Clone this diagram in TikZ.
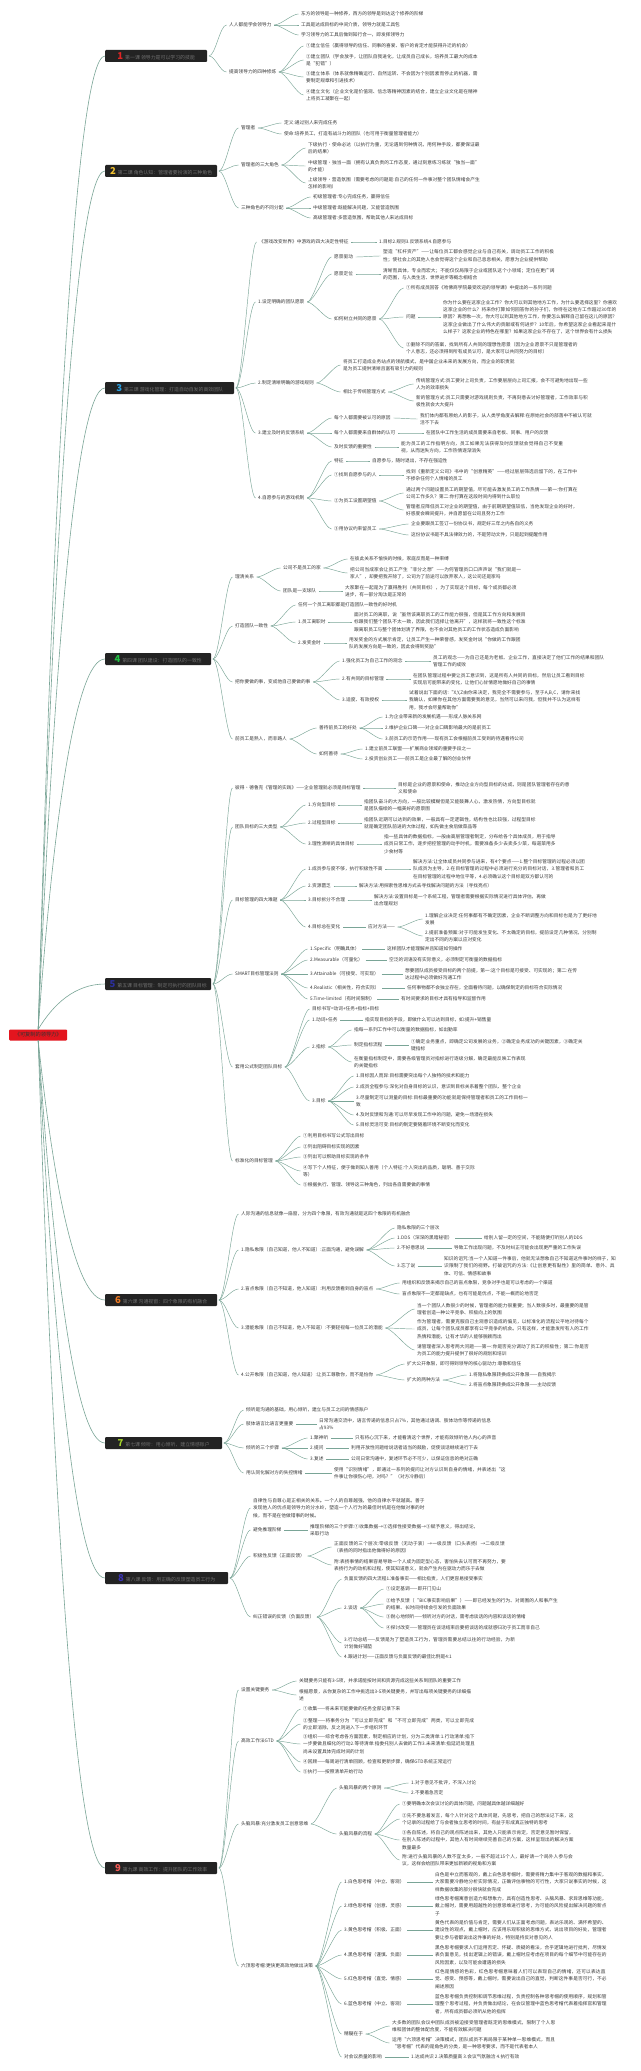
\documentclass[tikz,border=0pt]{standalone}
\usepackage{fontspec}
\setmainfont{Noto Sans CJK SC}
\XeTeXlinebreaklocale "zh"
\XeTeXlinebreakskip = 0pt plus 1pt
\usetikzlibrary{calc}

\definecolor{linkc}{HTML}{7AA597}
\definecolor{txt}{HTML}{3A3A3A}
\definecolor{hdrfill}{HTML}{232323}
\definecolor{hdrtxt}{HTML}{707070}
\definecolor{rootred}{HTML}{E3151E}
\definecolor{n1}{HTML}{E02424}
\definecolor{n2}{HTML}{F2C230}
\definecolor{n3}{HTML}{2A9FE0}
\definecolor{n4}{HTML}{22C244}
\definecolor{n5}{HTML}{2B2F9C}
\definecolor{n6}{HTML}{F07A22}
\definecolor{n7}{HTML}{A6D62A}
\definecolor{n8}{HTML}{3A32B4}
\definecolor{n9}{HTML}{F25A55}

\def\fs{\fontsize{4.7}{7.3}\selectfont}
\def\hfs{\fontsize{4.9}{6}\selectfont}
\def\hnum#1#2{{\color{#1}\fontsize{9.5}{9.5}\selectfont\bfseries #2}\hspace{2pt}}

\tikzset{
	leaf/.style={anchor=west, inner sep=1pt, text=txt, font=\fs},
	para/.style={leaf, text width=172pt, align=left},
	hdr/.style={anchor=west, fill=hdrfill, text=hdrtxt, font=\hfs, inner xsep=3pt, inner ysep=1pt, minimum height=12pt, rounded corners=1pt},
	rootbox/.style={anchor=west, fill=rootred, text=black!80, font=\fontsize{5.2}{6}\selectfont, minimum width=58pt, minimum height=11pt, inner sep=1pt, rounded corners=1pt},
	link/.style={draw=linkc, line width=0.45pt, shorten <=1.5pt, shorten >=1.5pt},
	rootlink/.style={draw=linkc, line width=0.6pt}
}

\begin{document}
\begin{tikzpicture}[x=1pt,y=1pt]
			%%%%% START %%%%%
			\fill[white] (0,0) rectangle (640,-2071);
			\useasboundingbox (0,0) rectangle (640,-2071);

			\node[rootbox] (root) at (9,-1035) {《可复制的领导力》};

			\node[hdr, minimum width=102pt] (h1) at (105,-56) {\hnum{n1}{1}第一课 领导力是可以学习的技能};
			\node[hdr, minimum width=112pt] (h2) at (105,-171) {\hnum{n2}{2}第二课 角色认知：管理者要扮演的三种角色};
			\node[hdr, minimum width=129pt] (h3) at (105,-388) {\hnum{n3}{3}第三课 游戏化管理：打造自动自发的高效团队};
			\node[hdr, minimum width=106pt] (h4) at (105,-659) {\hnum{n4}{4}第四课 团队建设：打造团队的一致性};
			\node[hdr, minimum width=106pt] (h5) at (105,-984) {\hnum{n5}{5}第五课 目标管理：制定可执行的团队目标};
			\node[hdr, minimum width=112pt] (h6) at (105,-1300) {\hnum{n6}{6}第六课 沟通视窗：四个象限的有机融合};
			\node[hdr, minimum width=117pt] (h7) at (105,-1443) {\hnum{n7}{7}第七课 倾听：用心倾听，建立情感账户};
			\node[hdr, minimum width=123pt] (h8) at (105,-1578) {\hnum{n8}{8}第八课 反馈：用正确的反馈塑造员工行为};
			\node[hdr, minimum width=112pt] (h9) at (105,-1868) {\hnum{n9}{9}第九课 高效工作：提升团队的工作效率};

			\foreach \hn/\d in {h1/535,h2/470,h3/350,h4/205,h5/25}
				\draw[rootlink] (root.north) .. controls +(15,\d) and +(-30,0) .. (\hn.west);
			\foreach \hn/\d in {h6/-140,h7/-220,h8/-295,h9/-455}
				\draw[rootlink] (root.south) .. controls +(15,\d) and +(-30,0) .. (\hn.west);

			% 1
			\node[leaf] (b1a) at (228,-25) {人人都能学会领导力};
			\node[leaf] (b1a1) at (300,-14) {东方的领导是一种修养，西方的领导是到达这个修养的阶梯};
			\node[leaf] (b1a2) at (300,-25) {工具是达成目标的中间介质，领导力就是工具包};
			\node[leaf] (b1a3) at (300,-35) {学习领导力的工具后做到知行合一，即发挥领导力};
			\node[leaf] (b1b) at (228,-72) {提高领导力的四种修炼};
			\node[leaf] (b1b1) at (305,-46) {①建立信任（赢得领导的信任、同事的喜爱、客户的肯定才能获得升迁的机会）};
			\node[para] (b1b2) at (305,-60) {②建立团队（学会放手，让团队自我进化，让成员自己成长，培养员工最大的成本是“犯错”）};
			\node[para] (b1b3) at (305,-77) {③建立体系（体系就像精确运行、自然运转、不会因为个别因素而停止的机器，需要制定规章和引进技术）};
			\node[para] (b1b4) at (305,-95) {④建立文化（企业文化是价值观、信念等精神因素的结合，建立企业文化是在精神上将员工凝聚在一起）};

			% 2
			\node[leaf] (b2a) at (240,-128) {管理者};
			\node[leaf] (b2a1) at (283,-123) {定义:通过别人来完成任务};
			\node[leaf] (b2a2) at (283,-134) {使命:培养员工，打造有战斗力的团队（也可用于衡量管理者能力）};
			\node[leaf] (b2b) at (240,-165) {管理者的三大角色};
			\node[para] (b2b1) at (307,-148) {下级执行·使命必达（以执行为重，无论遇到何种情况，用何种手段，都要保证最后的结果）};
			\node[para] (b2b2) at (307,-166) {中级管理·独当一面（拥有认真负责的工作态度，通过刻意练习练就“独当一面”的才能）};
			\node[para] (b2b3) at (307,-183) {上级领导·营造氛围（需要考虑的问题是:自己的任何一件事对整个团队情绪会产生怎样的影响）};
			\node[leaf] (b2c) at (240,-208) {三种角色的不同分配};
			\node[leaf] (b2c1) at (312,-197) {初级管理者:专心完成任务，赢得信任};
			\node[leaf] (b2c2) at (312,-208) {中级管理者:既能解决问题，又能营造氛围};
			\node[leaf] (b2c3) at (312,-218) {高级管理者:多营造氛围，帮助其他人来达成目标};

			% 3
			\node[leaf] (b3a) at (258,-242) {《游戏改变世界》中游戏的四大决定性特征};
			\node[leaf] (b3a1) at (378,-242) {1.目标2.规则3.反馈系统4.自愿参与};
			\node[leaf] (b3b) at (257,-302) {1.设定明确的团队愿景};
			\node[leaf] (b3b1) at (333,-257) {愿景驱动};
			\node[para] (b3b1t) at (382,-256) {塑造“杠杆资产”——让每位员工都会感觉企业与自己有关，调动员工工作的积极性；使社会上的其他人也会觉得这个企业和自己息息相关，愿意为企业提供帮助};
			\node[leaf] (b3b2) at (333,-274) {愿景定位};
			\node[para] (b3b2t) at (382,-274) {清晰而具体，专业而宏大；不能仅仅局限于企业或团队这个小领域；定位在更广阔的范围，与人类生活、世界进步等概念相结合};
			\node[leaf] (b3b3) at (333,-319) {如何树立共同的愿景};
			\node[leaf] (b3b31) at (405,-288) {①所有成员回答《哈佛商学院最受欢迎的领导课》中提出的一系列问题};
			\node[leaf] (b3b32) at (405,-317) {问题};
			\node[para, text width=174pt] (b3b32t) at (442,-317) {你为什么要在这家企业工作？你大可以到其他地方工作，为什么要选择这里？你喜欢这家企业的什么？将来你打算如何回答你的孙子们，你待在这地方工作超过30年的原因？再想象一次，你大可以到其他地方工作，你要怎么解释自己留在这儿的原因？这家企业做出了什么伟大的贡献或有何进步？10年后，你希望这家企业看起来是什么样子？这家企业的特色在哪里？如果这家企业不存在了，这个世界会有什么损失};
			\node[para] (b3b33) at (405,-348) {②删除不同的答案，找到所有人共同的理想性愿景（因为企业愿景不只是管理者的个人意志，还必须得到所有成员认可，是大家可以共同努力的目标）};
			\node[leaf] (b3c) at (257,-383) {2.制定清晰明确的游戏规则};
			\node[para] (b3c1) at (342,-365) {将员工打造成业务站点的领航模式，是中国企业未来的发展方向，而企业的职责就是为员工提供清晰且富有吸引力的规则};
			\node[leaf] (b3c2) at (342,-392) {相比于传统管理方式};
			\node[para] (b3c21) at (415,-384) {传统管理方式:员工要对上司负责，工作要层层向上司汇报，会不可避免地出现一些人为的效率损失};
			\node[para] (b3c22) at (415,-401) {新的管理方式:员工只需要对游戏规则负责，不再刻意去讨好管理者，工作效率与积极性就会大大提升};
			\node[leaf] (b3d) at (257,-433) {3.建立及时的反馈系统};
			\node[leaf] (b3d1) at (333,-418) {每个人都需要被认可的原因};
			\node[para] (b3d1t) at (419,-419) {我们体内都有原始人的影子，从人类学角度去解释:在原始社会的部落中不被认可就活不下去};
			\node[leaf] (b3d2) at (333,-433) {每个人都需要来自群体的认可};
			\node[leaf] (b3d2t) at (425,-433) {在团队中工作生活的成员需要来自老板、同事、用户的反馈};
			\node[leaf] (b3d3) at (333,-447) {及时反馈的重要性};
			\node[para, text width=164pt] (b3d3t) at (400,-447) {能为员工的工作指明方向，员工如果无法获得及时反馈就会觉得自己不受重视，从而迷失方向，工作热情逐渐消失};
			\node[leaf] (b3e) at (257,-498) {4.自愿参与的游戏机制};
			\node[leaf] (b3e1) at (333,-461) {特征};
			\node[leaf] (b3e1t) at (371,-461) {自愿参与，随时退出，不存在强迫性};
			\node[leaf] (b3e2) at (333,-475) {①找到自愿参与的人};
			\node[para] (b3e2t) at (405,-475) {找到《重新定义公司》书中的“创意精英”——经过层层筛选后留下的，在工作中不掺杂任何个人情绪的员工};
			\node[leaf] (b3e3) at (333,-501) {②为员工设置期望值};
			\node[para] (b3e31) at (405,-493) {通过两个问题设置员工的期望值，尽可能去激发员工的工作热情——第一:你打算在公司工作多久？第二:你打算在这段时间内得到什么职位};
			\node[para] (b3e32) at (405,-510) {管理者应降低员工对企业的期望值，由于前期期望值较低，当他发现企业的好时，好感度会瞬间提升，并自愿留在公司且努力工作};
			\node[leaf] (b3e4) at (333,-529) {③用协议约束留员工};
			\node[leaf] (b3e41) at (410,-524) {企业要跟员工签订一份协议书，规定好三年之内各自的义务};
			\node[leaf] (b3e42) at (410,-535) {这份协议书是不具法律效力的，不是劳动文件，只是起到提醒作用};

			% 4
			\node[leaf] (b4a) at (234,-577) {理清关系};
			\node[leaf] (b4a1) at (282,-568) {公司不是员工的家};
			\node[leaf] (b4a11) at (349,-559) {在彼此关系不愉快的时候，家庭反而是一种束缚};
			\node[para] (b4a12) at (349,-573) {把公司当成家会让员工产生“非分之想”——为何管理员口口声声说“我们就是一家人”，却要把我开除了，公司为了前途可以放弃家人，这公司还是家吗};
			\node[leaf] (b4a2) at (282,-591) {团队是一支球队};
			\node[para] (b4a2t) at (344,-591) {大家聚在一起是为了赢得胜利（共同目标），为了实现这个目标，每个成员都必须进步，有一部分淘汰是正常的};
			\node[leaf] (b4b) at (234,-626) {打造团队一致性};
			\node[leaf] (b4b1) at (297,-605) {任何一个员工离职都是打造团队一致性的好时机};
			\node[leaf] (b4b2) at (297,-622) {1.员工离职时};
			\node[para] (b4b2t) at (353,-622) {面对员工的离职，说“虽然该离职员工的工作能力很强，但是其工作方向和发展目标跟我们整个团队不太一致，因此我们选择让他离开”，这样就将一致性这个标准跟离职员工与整个团体划清了界限，也不会对其他员工的工作状态造成负面影响};
			\node[leaf] (b4b3) at (297,-643) {2.发奖金时};
			\node[para] (b4b3t) at (348,-643) {用发奖金的方式展示肯定，让员工产生一种荣誉感，发奖金时说“你做的工作跟团队的发展方向是一致的，因此会得到奖励”};
			\node[leaf] (b4c) at (234,-682) {把你要做的事，变成他自己要做的事};
			\node[leaf] (b4c1) at (341,-661) {1.强化员工为自己工作的观念};
			\node[para] (b4c1t) at (432,-661) {员工的观念——为自己还是为老板、企业工作，直接决定了他们工作的结果和团队管理工作的成败};
			\node[leaf] (b4c2) at (341,-679) {2.有共同的目标管理};
			\node[para] (b4c2t) at (412,-679) {在团队管理过程中要让员工意识到，这是所有人共同的目标，然后让员工看到目标实现后可能带来的变化，让他们心甘情愿地做好自己的事情};
			\node[leaf] (b4c3) at (341,-700) {3.适度、有效授权};
			\node[para] (b4c3t) at (408,-700) {试着说出下面的话:“X,Y,Z由你来决定，我完全不需要参与，至于A,B,C，请你来找我确认，如果你在其他方面需要我的意见，当然可以来问我，但我并不认为这样有用，我才会尽量帮助你”};
			\node[leaf] (b4d) at (234,-739) {前员工是熟人，而非路人};
			\node[leaf] (b4d1) at (318,-728) {善待前员工的好处};
			\node[leaf] (b4d11) at (384,-717) {1.为企业带来新的发展机遇——形成人脉关系网};
			\node[leaf] (b4d12) at (384,-728) {2.维护企业口碑——对企业口碑影响最大的是前员工};
			\node[leaf] (b4d13) at (384,-739) {3.前员工的示范作用——现有员工会根据前员工受到的待遇看待公司};
			\node[leaf] (b4d2) at (318,-754) {如何善待};
			\node[leaf] (b4d21) at (364,-749) {1.建立前员工联盟——扩展商业领域的重要手段之一};
			\node[leaf] (b4d22) at (364,-759) {2.投资创业员工——前员工是企业最了解的创业伙伴};

			% 5
			\node[leaf] (b5a) at (234,-788) {彼得·德鲁克《管理的实践》——企业管理就必须是目标管理};
			\node[para] (b5at) at (397,-788) {目标是企业的愿景和使命，推动企业方向型目标的达成，则是团队管理者存在的意义和使命};
			\node[leaf] (b5b) at (234,-827) {团队目标的三大类型};
			\node[leaf] (b5b1) at (307,-805) {1.方向型目标};
			\node[para] (b5b1t) at (363,-805) {指团队奋斗的大方向，一般比较模糊但是又能鼓舞人心，激发热情，方向型目标就是团队描绘的一幅美好的愿景图};
			\node[leaf] (b5b2) at (307,-823) {2.过程型目标};
			\node[para] (b5b2t) at (363,-823) {指团队近期可以达到的效果，一般具有一定逻辑性，结构性也比较强，过程型目标就是确定团队前进的大体过程，如先做主食后做菜品等};
			\node[leaf] (b5b3) at (307,-844) {3.理性清晰的具体目标};
			\node[para] (b5b3t) at (383,-844) {指一些具体的数据指标，一般由高层管理者制定，分布给各个具体成员，用于指导成员日常工作，逐步把控管理的动手时机，需要准备多少去卖多少菜，每道菜用多少食材等};
			\node[leaf] (b5c) at (234,-900) {目标管理的四大难题};
			\node[leaf] (b5c1) at (307,-869) {1.成员参与度不够，执行积极性不高};
			\node[para] (b5c1t) at (412,-869) {解决方法:让全体成员共同参与进来，有4个要点——1.整个目标管理的过程必须以团队成员为主导，2.在目标管理的过程中必须进行充分的目标对话，3.管理者和员工在目标管理的过程中地位平等，4.必须确认这个目标是双方都认可的};
			\node[leaf] (b5c2) at (307,-886) {2.资源匮乏};
			\node[leaf] (b5c2t) at (358,-886) {解决方法:用探索性思维方式去寻找解决问题的方法（寻找亮点）};
			\node[leaf] (b5c3) at (307,-900) {3.目标拆分不合理};
			\node[para] (b5c3t) at (373,-900) {解决方法:设置目标是一个系统工程，管理者需要根据实际情况进行具体评估，再做出合理规划};
			\node[leaf] (b5c4) at (307,-927) {4.目标总在变化};
			\node[leaf] (b5c4a) at (367,-927) {应对方法——};
			\node[para] (b5c41) at (424,-919) {1.理解企业决定:任何事都有不确定因素，企业不断调整方向和目标也是为了更好地发展};
			\node[para] (b5c42) at (424,-936) {2.提前准备预案:对于可能发生变化、不太确定的目标，提前设定几种情况，分别制定出不同的方案以应对变化};
			\node[leaf] (b5d) at (234,-974) {SMART目标管理法则};
			\node[leaf] (b5d1) at (309,-949) {1.Specific（明确具体）};
			\node[leaf] (b5d1t) at (386,-949) {这样团队才能理解并且知道如何操作};
			\node[leaf] (b5d2) at (309,-960) {2.Measurable（可量化）};
			\node[leaf] (b5d2t) at (388,-960) {空泛的词语没有实际意义，必须制定可衡量的数据指标};
			\node[leaf] (b5d3) at (309,-974) {3.Attainable（可接受、可实现）};
			\node[para] (b5d3t) at (404,-974) {想要团队成员接受目标的两个前提，第一:这个目标是可接受、可实现的；第二:在传达过程中必须做好沟通工作};
			\node[leaf] (b5d4) at (309,-988) {4.Realistic（相关性，符合实际）};
			\node[leaf] (b5d4t) at (406,-988) {任何事物都不会独立存在，全面看待问题，以确保制定的目标符合实际情况};
			\node[leaf] (b5d5) at (309,-999) {5.Time-limited（有时间限制）};
			\node[leaf] (b5d5t) at (400,-999) {有时间要求的目标才具有指导和监督作用};
			\node[leaf] (b5e) at (234,-1067) {套用公式制定团队目标};
			\node[leaf] (b5e1) at (311,-1009) {目标书写=动词+任务+指标+目标};
			\node[leaf] (b5e2) at (311,-1020) {1.动词+任务};
			\node[leaf] (b5e2t) at (364,-1020) {指实现目标的手段，即做什么可以达到目标，如:提升+销售量};
			\node[leaf] (b5e3) at (311,-1047) {2.指标};
			\node[leaf] (b5e31) at (353,-1030) {指每一系列工作中可以衡量的数据指标，如出勤率};
			\node[leaf] (b5e32) at (353,-1045) {制定指标流程};
			\node[para] (b5e32t) at (410,-1045) {①确定业务重点，即确定公司发展的业务，②确定业务成功的关键因素，③确定关键指标};
			\node[para] (b5e33) at (353,-1062) {在衡量指标制定中，需要各级管理员对指标进行逐级分解，确定最能反映工作表现的关键指标};
			\node[leaf] (b5e4) at (311,-1101) {3.目标};
			\node[leaf] (b5e41) at (355,-1076) {1.目标因人而异:目标需要突出每个人独特的技术和能力};
			\node[leaf] (b5e42) at (355,-1087) {2.成员全程参与:深化对自身目标的认识，意识到目标关系着整个团队、整个企业};
			\node[para] (b5e43) at (355,-1101) {3.尽量制定可以测量的目标:目标最重要的功能就是保持管理者和员工的工作目标一致};
			\node[leaf] (b5e44) at (355,-1115) {4.及时反馈和沟通:可以尽早发现工作中的问题，避免一场潜在损失};
			\node[leaf] (b5e45) at (355,-1125) {5.目标灵活可变:目标的制定要随着环境不断变化而变化};
			\node[leaf] (b5f) at (234,-1161) {标准化的目标管理};
			\node[leaf] (b5f1) at (302,-1136) {①利用目标书写公式写出目标};
			\node[leaf] (b5f2) at (302,-1147) {②列出阻碍目标实现的因素};
			\node[leaf] (b5f3) at (302,-1157) {③列出可以帮助目标实现的条件};
			\node[para] (b5f4) at (302,-1171) {④写下个人特征，便于做到知人善用（个人特征:个人突出的品质，聪明、善于交际等）};
			\node[leaf] (b5f5) at (302,-1185) {⑤根据执行、管理、领导这三种角色，列出各自需要做的事情};

			% 6
			\node[para] (b6a) at (240,-1214) {人际沟通的信息就像一扇窗，分为四个象限，有效沟通就是这四个象限的有机融合};
			\node[leaf] (b6b) at (240,-1250) {1.隐私象限（自己知道，他人不知道）:正面沟通，避免误解};
			\node[leaf] (b6b1) at (396,-1228) {隐私象限的三个层次};
			\node[leaf] (b6b2) at (396,-1238) {1.DDS（深深的黑暗秘密）};
			\node[leaf] (b6b2t) at (483,-1238) {给别人留一定的空间，不能随便打听别人的DDS};
			\node[leaf] (b6b3) at (396,-1248) {2.不好意思说};
			\node[leaf] (b6b3t) at (453,-1248) {导致工作出现问题，不及时纠正可能会出现更严重的工作失误};
			\node[leaf] (b6b4) at (396,-1266) {3.忘了说};
			\node[para] (b6b4t) at (443,-1266) {知识的诅咒:当一个人知道一件事后，他就无法想象自己不知道这件事时的样子，知识限制了我们的视野。打破诅咒的方法:《让创意更有黏性》里的简单、意外、具体、可信、情感和故事};
			\node[leaf] (b6c) at (240,-1289) {2.盲点象限（自己不知道，他人知道）:利用反馈看到自身的盲点};
			\node[leaf] (b6c1) at (401,-1283) {用组织和反馈来揭示自己的盲点象限，竞争对手也是可以考虑的一个渠道};
			\node[leaf] (b6c2) at (401,-1294) {盲点象限不一定都是缺点，也有可能是优点，不能一概而论地否定};
			\node[leaf] (b6d) at (240,-1328) {3.潜能象限（自己不知道，他人不知道）:不要轻视每一位员工的潜能};
			\node[para] (b6d1) at (416,-1309) {当一个团队人数很少的时候，管理者的能力很重要；当人数很多时，最重要的是管理者创造一种公平竞争、积极向上的氛围};
			\node[para] (b6d2) at (416,-1329) {作为管理者，需要克服自己主观意识造成的偏见，以标准化的流程公平地对待每个成员，让每个团队成员都享有公平竞争的机会。只有这样，才能激发所有人的工作热情和潜能，让有才华的人能够脱颖而出};
			\node[para] (b6d3) at (416,-1350) {请管理者深入思考两大问题——第一:你是否充分调动了员工的积极性；第二:你是否为员工的能力提升提供了很好的规划和培训};
			\node[leaf] (b6e) at (240,-1375) {4.公开象限（自己知道，他人知道）:让员工尊敬你，而不是怕你};
			\node[leaf] (b6e1) at (406,-1364) {扩大公开象限，即可得到领导的核心驱动力:尊敬和信任};
			\node[leaf] (b6e2) at (406,-1380) {扩大的两种方法};
			\node[leaf] (b6e21) at (468,-1375) {1.将隐私象限转换成公开象限——自我揭示};
			\node[leaf] (b6e22) at (468,-1385) {2.将盲点象限转换成公开象限——主动反馈};

			% 7
			\node[leaf] (b7a) at (245,-1410) {倾听是沟通的基础，用心倾听，建立与员工之间的情感账户};
			\node[leaf] (b7b) at (245,-1424) {肢体语言比语言更重要};
			\node[para] (b7bt) at (318,-1424) {日常沟通交流中，语言传递的信息只占7\%，其他通过语调、肢体动作等传递的信息占93\%};
			\node[leaf] (b7c) at (245,-1448) {倾听的三个步骤};
			\node[leaf] (b7c1) at (309,-1438) {1.聚神听};
			\node[leaf] (b7c1t) at (354,-1438) {只有将心沉下来，才能看清这个世界，才能有效倾听他人内心的声音};
			\node[leaf] (b7c2) at (309,-1448) {2.提问};
			\node[leaf] (b7c2t) at (350,-1448) {利用开放性问题给说话者适当的鼓励，促使谈话继续进行下去};
			\node[leaf] (b7c3) at (309,-1459) {3.复述};
			\node[leaf] (b7c3t) at (350,-1459) {公司日常沟通中，复述环节必不可少，以保证信息的绝对正确};
			\node[leaf] (b7d) at (245,-1473) {用认同化解对方的失控情绪};
			\node[para] (b7dt) at (333,-1473) {使用“识别情绪”，即通过一系列的提问让对方认识到自身的情绪，并表述出“这件事让你很伤心吧，对吗？”（对方冷静后）};

			% 8
			\node[para] (b8a) at (252,-1508) {自律性与自尊心是正相关的关系。一个人的自尊越强，他的自律水平就越高。善于发现他人的优点是领导力的分水岭，塑造一个人行为的最佳时机是在他做对事的时候，而不是在他做错事的时候。};
			\node[leaf] (b8b) at (252,-1530) {避免推理阶梯};
			\node[para, text width=169pt] (b8bt) at (309,-1530) {推理阶梯的三个步骤:①收集数据→②选择性接受数据→③赋予意义，得出结论，采取行动};
			\node[leaf] (b8c) at (252,-1556) {积极性反馈（正面反馈）};
			\node[para] (b8c1) at (333,-1547) {正面反馈的三个层次:零级反馈（无动于衷）→一级反馈（口头表扬）→二级反馈（表扬的同时指出他做得好的原因）};
			\node[para] (b8c2) at (333,-1565) {附:表扬事情的结果容易导致一个人成为固定型心态，害怕失去认可而不再努力，要表扬行为的动机和过程，使其知道意义，就会产生内在驱动力而乐于去做};
			\node[leaf] (b8d) at (252,-1617) {纠正错误的反馈（负面反馈）};
			\node[leaf] (b8d1) at (343,-1579) {负面反馈的四大流程1.准备事实——相比指责，人们更容易接受事实};
			\node[leaf] (b8d2) at (343,-1608) {2.谈话};
			\node[leaf] (b8d21) at (385,-1589) {①设定基调——即开门见山};
			\node[para] (b8d22) at (385,-1604) {②给予反馈（“BIC事实影响后果”）——即已经发生的行为、对周围的人和事产生的结果、长时间持续会引发的负面效果};
			\node[leaf] (b8d23) at (385,-1617) {③耐心地倾听——倾听对方的对话，需考虑谈话的内容和谈话的情绪};
			\node[leaf] (b8d24) at (385,-1628) {④探讨改变——管理员在谈话结束后要把谈话的成就感归功于员工而非自己};
			\node[para] (b8d3) at (343,-1643) {3.行动总结——反馈是为了塑造员工行为，管理员需要总结以往的行动经验，为新计划做好铺垫};
			\node[leaf] (b8d4) at (343,-1657) {4.跟进计划——正面反馈与负面反馈的最佳比例是4:1};

			% 9
			\node[leaf] (b9a) at (240,-1690) {设置关键要务};
			\node[leaf] (b9a1) at (298,-1681) {关键要务只能有3-5项，并承诺能按时间和资源完成这些关系到团队的重要工作};
			\node[para] (b9a2) at (298,-1695) {根据愿景，从你复杂的工作中挑选出3-5项关键要务，并写出每项关键要务的详细描述};
			\node[leaf] (b9b) at (240,-1741) {高效工作法GTD};
			\node[leaf] (b9b1) at (302,-1709) {①收集——将未来可能要做的任务全部记录下来};
			\node[para] (b9b2) at (302,-1724) {②整理——将事务分为“可以立即完成”和“不可立即完成”两类，可以立即完成的立即消除，反之则进入下一步组织环节};
			\node[para] (b9b3) at (302,-1744) {③组织——综合考虑各方面因素，制定相应的计划，分为三类清单:1.行动清单:指下一步要做且细化的行动2.等待清单:指委托别人去做的工作3.未来清单:指延迟处理且尚未设置具体完成时间的计划};
			\node[leaf] (b9b4) at (302,-1762) {④回顾——每周进行清单回顾，检查和更新步骤，确保GTD系统正常运行};
			\node[leaf] (b9b5) at (302,-1772) {⑤执行——按照清单开始行动};
			\node[leaf] (b9c) at (240,-1824) {头脑风暴:充分激发员工创意思维};
			\node[leaf] (b9c1) at (338,-1788) {头脑风暴的两个原则};
			\node[leaf] (b9c11) at (410,-1783) {1.对于意见不批评，不深入讨论};
			\node[leaf] (b9c12) at (410,-1793) {2.不要着急否定};
			\node[leaf] (b9c2) at (338,-1834) {头脑风暴的流程};
			\node[leaf] (b9c21) at (401,-1804) {①要明确本次会议讨论的具体问题，问题越具体越详细越好};
			\node[para] (b9c22) at (401,-1819) {②先不要急着发言，每个人针对这个具体问题，先思考，把自己的想法记下来，这个记录的过程给了与会者独立思考的时间，有益于形成真正独特的思考};
			\node[para] (b9c23) at (401,-1840) {③各自陈述，将自己的观点陈述出来，其他人只能表示肯定，否定意见暂时保留，在别人陈述的过程中，其他人有时间继续完善自己的方案，这样呈现出的解决方案数量最多};
			\node[para] (b9c24) at (401,-1860) {附:进行头脑风暴的人数不宜太多，一般不超过15个人，最好请一个局外人参与会议，这样会给团队带来更加新颖的视角和方案};
			\node[leaf] (b9d) at (240,-1966) {六顶思考帽:更快更高效地做出决策};
			\node[leaf] (b9d1) at (343,-1882) {1.白色思考帽（中立、客观）};
			\node[para] (b9d1t) at (434,-1882) {白色是中立而客观的，戴上白色思考帽时，需要将精力集中于客观的数据和事实，大家需要冷静地分析实际情况，正确评估事物的可行性，大家只说事实的时候，这样数据收集的部分很快就会完成};
			\node[leaf] (b9d2) at (343,-1906) {2.绿色思考帽（创意、灵感）};
			\node[para] (b9d2t) at (434,-1906) {绿色思考帽寓意创造力和想象力，具有创造性思考、头脑风暴、求异思维等功能，戴上帽时，需要用超越性的创意思维进行思考，为可能的风险提出解决问题的新点子};
			\node[leaf] (b9d3) at (343,-1930) {3.黄色思考帽（积极、正面）};
			\node[para] (b9d3t) at (434,-1930) {黄色代表的是价值与肯定，需要人们从正面考虑问题，表达乐观的、满怀希望的、建设性的观点，戴上帽时，应该用乐观积极的思维方式，说出项目的好处，管理者要让参与者都说出这件事的好处，特别是持反对意见的人};
			\node[leaf] (b9d4) at (343,-1955) {4.黑色思考帽（谨慎、负面）};
			\node[para] (b9d4t) at (434,-1955) {黑色思考帽要求人们运用否定、怀疑、质疑的看法，合乎逻辑地进行批判，尽情发表负面意见，找出逻辑上的错误，戴上帽时应考虑在项目的每个细节中可能存在的风险因素，以及可能会遭遇的损失};
			\node[leaf] (b9d5) at (343,-1979) {5.红色思考帽（直觉、情感）};
			\node[para] (b9d5t) at (434,-1979) {红色是情感的色彩，红色思考帽意味着人们可以表现自己的情绪，还可以表达直觉、感受、预感等，戴上帽时，需要说出自己的直觉，判断这件事是否可行，不必阐述原因};
			\node[leaf] (b9d6) at (343,-2004) {6.蓝色思考帽（中立、客观）};
			\node[para] (b9d6t) at (434,-2004) {蓝色思考帽负责控制和调节思维过程，负责控制各种思考帽的使用顺序，规划和管理整个思考过程，并负责做出结论，在会议管理中蓝色思考帽代表着指挥官和管理者，所有成员都必须听从他的指挥};
			\node[leaf] (b9d7) at (343,-2034) {精髓在于};
			\node[para, text width=164pt] (b9d71) at (391,-2026) {大多数的团队会议中团队成员被迫接受管理者既定的思维模式，限制了个人思维和团体的整体配合度，不能有效解决问题};
			\node[para, text width=164pt] (b9d72) at (391,-2043) {运用“六顶思考帽”决策模式，团队成员不再局限于某种单一思维模式，而且“思考帽”代表的是角色的分类，是一种思考要求，而不是代表者本人};
			\node[leaf] (b9d8) at (343,-2057) {对会议质量的影响};
			\node[leaf] (b9d8t) at (410,-2057) {1.达成共识 2.决策质量高 3.会议气氛融洽 4.执行有效};

			% connectors
			\foreach \pn/\cn in {h1/b1a,h1/b1b,b1a/b1a1,b1a/b1a2,b1a/b1a3,b1b/b1b1,b1b/b1b2,b1b/b1b3,b1b/b1b4,
				h2/b2a,h2/b2b,h2/b2c,b2a/b2a1,b2a/b2a2,b2b/b2b1,b2b/b2b2,b2b/b2b3,b2c/b2c1,b2c/b2c2,b2c/b2c3,
				h3/b3a,h3/b3b,h3/b3c,h3/b3d,h3/b3e,b3a/b3a1,b3b/b3b1,b3b/b3b2,b3b/b3b3,b3b1/b3b1t,b3b2/b3b2t,
				b3b3/b3b31,b3b3/b3b32,b3b3/b3b33,b3b32/b3b32t,b3c/b3c1,b3c/b3c2,b3c2/b3c21,b3c2/b3c22,
				b3d/b3d1,b3d/b3d2,b3d/b3d3,b3d1/b3d1t,b3d2/b3d2t,b3d3/b3d3t,b3e/b3e1,b3e/b3e2,b3e/b3e3,b3e/b3e4,
				b3e1/b3e1t,b3e2/b3e2t,b3e3/b3e31,b3e3/b3e32,b3e4/b3e41,b3e4/b3e42,
				h4/b4a,h4/b4b,h4/b4c,h4/b4d,b4a/b4a1,b4a/b4a2,b4a1/b4a11,b4a1/b4a12,b4a2/b4a2t,
				b4b/b4b1,b4b/b4b2,b4b/b4b3,b4b2/b4b2t,b4b3/b4b3t,b4c/b4c1,b4c/b4c2,b4c/b4c3,b4c1/b4c1t,b4c2/b4c2t,b4c3/b4c3t,
				b4d/b4d1,b4d/b4d2,b4d1/b4d11,b4d1/b4d12,b4d1/b4d13,b4d2/b4d21,b4d2/b4d22}
				\draw[link] (\pn.east) to[out=0,in=180,out distance=8pt,in distance=8pt] (\cn.west);
			\foreach \pn/\cn in {h5/b5a,h5/b5b,h5/b5c,h5/b5d,h5/b5e,h5/b5f,b5a/b5at,b5b/b5b1,b5b/b5b2,b5b/b5b3,
				b5b1/b5b1t,b5b2/b5b2t,b5b3/b5b3t,b5c/b5c1,b5c/b5c2,b5c/b5c3,b5c/b5c4,b5c1/b5c1t,b5c2/b5c2t,b5c3/b5c3t,
				b5c4/b5c4a,b5c4a/b5c41,b5c4a/b5c42,b5d/b5d1,b5d/b5d2,b5d/b5d3,b5d/b5d4,b5d/b5d5,
				b5d1/b5d1t,b5d2/b5d2t,b5d3/b5d3t,b5d4/b5d4t,b5d5/b5d5t,b5e/b5e1,b5e/b5e2,b5e/b5e3,b5e/b5e4,b5e2/b5e2t,
				b5e3/b5e31,b5e3/b5e32,b5e3/b5e33,b5e32/b5e32t,b5e4/b5e41,b5e4/b5e42,b5e4/b5e43,b5e4/b5e44,b5e4/b5e45,
				b5f/b5f1,b5f/b5f2,b5f/b5f3,b5f/b5f4,b5f/b5f5,
				h6/b6a,h6/b6b,h6/b6c,h6/b6d,h6/b6e,b6b/b6b1,b6b/b6b2,b6b/b6b3,b6b/b6b4,b6b2/b6b2t,b6b3/b6b3t,b6b4/b6b4t,
				b6c/b6c1,b6c/b6c2,b6d/b6d1,b6d/b6d2,b6d/b6d3,b6e/b6e1,b6e/b6e2,b6e2/b6e21,b6e2/b6e22,
				h7/b7a,h7/b7b,h7/b7c,h7/b7d,b7b/b7bt,b7c/b7c1,b7c/b7c2,b7c/b7c3,b7c1/b7c1t,b7c2/b7c2t,b7c3/b7c3t,b7d/b7dt}
				\draw[link] (\pn.east) to[out=0,in=180,out distance=8pt,in distance=8pt] (\cn.west);
			\foreach \pn/\cn in {h8/b8a,h8/b8b,h8/b8c,h8/b8d,b8b/b8bt,b8c/b8c1,b8c/b8c2,b8d/b8d1,b8d/b8d2,b8d/b8d3,b8d/b8d4,
				b8d2/b8d21,b8d2/b8d22,b8d2/b8d23,b8d2/b8d24,
				h9/b9a,h9/b9b,h9/b9c,h9/b9d,b9a/b9a1,b9a/b9a2,b9b/b9b1,b9b/b9b2,b9b/b9b3,b9b/b9b4,b9b/b9b5,
				b9c/b9c1,b9c/b9c2,b9c1/b9c11,b9c1/b9c12,b9c2/b9c21,b9c2/b9c22,b9c2/b9c23,b9c2/b9c24,
				b9d/b9d1,b9d/b9d2,b9d/b9d3,b9d/b9d4,b9d/b9d5,b9d/b9d6,b9d/b9d7,b9d/b9d8,
				b9d1/b9d1t,b9d2/b9d2t,b9d3/b9d3t,b9d4/b9d4t,b9d5/b9d5t,b9d6/b9d6t,b9d7/b9d71,b9d7/b9d72,b9d8/b9d8t}
				\draw[link] (\pn.east) to[out=0,in=180,out distance=8pt,in distance=8pt] (\cn.west);
			%%%%% END %%%%%
\end{tikzpicture}
\end{document}
